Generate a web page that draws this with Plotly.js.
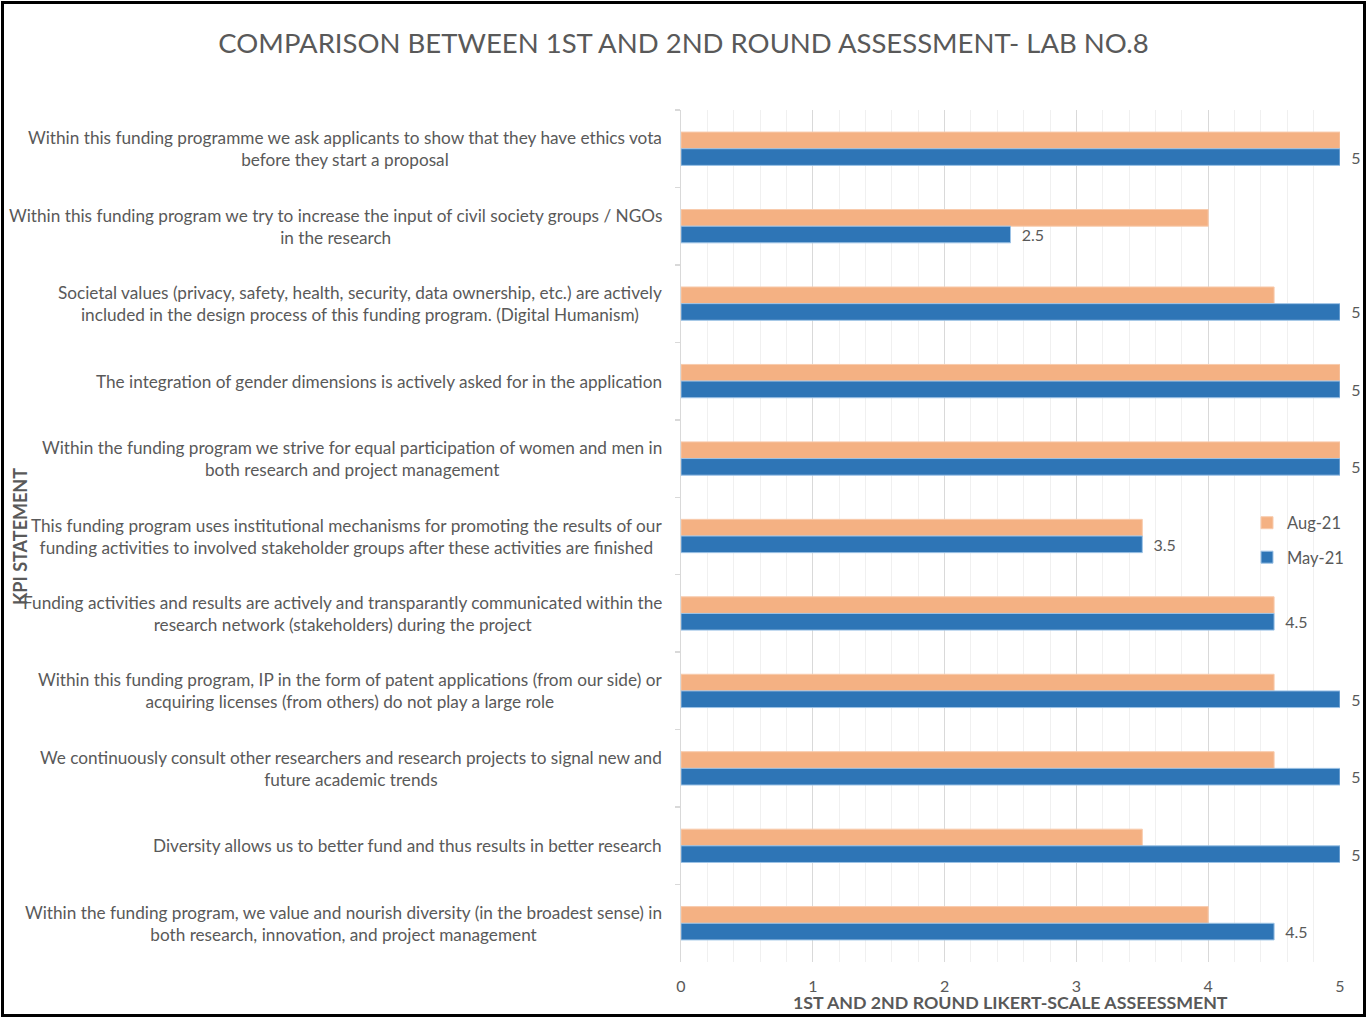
<!DOCTYPE html>
<html>
<head>
<meta charset="utf-8">
<script src="https://cdn.plot.ly/plotly-3.0.1.min.js"></script>
<style>
  html, body { margin: 0; padding: 0; background: #fff; }
  #wrap { position: relative; width: 1367px; height: 1019px; }
  #chart { width: 1367px; height: 1019px; }
  #frame { position: absolute; left: 1px; top: 1px; width: 1365px; height: 1016px; box-sizing: border-box; border: 3px solid #000; pointer-events: none; }
</style>
</head>
<body>
<div id="wrap"><div id="chart"></div><div id="frame"></div></div>
<script>
var categories = [
  "Within this funding programme we ask applicants to show that they have ethics vota<br>before they start a proposal",
  "Within this funding program we try to increase the input of civil society groups / NGOs<br>in the research",
  "Societal values (privacy, safety, health, security, data ownership, etc.) are actively<br>included in the design process of this funding program. (Digital Humanism)",
  "The integration of gender dimensions is actively asked for in the application",
  "Within the funding program we strive for equal participation of women and men in<br>both research and project management",
  "This funding program uses institutional mechanisms for promoting the results of our<br>funding activities to involved stakeholder groups after these activities are finished",
  "Funding activities and results are actively and transparantly communicated within the<br>research network (stakeholders) during the project",
  "Within this funding program, IP in the form of patent applications (from our side) or<br>acquiring licenses (from others) do not play a large role",
  "We continuously consult other researchers and research projects to signal new and<br>future academic trends",
  "Diversity allows us to better fund and thus results in better research",
  "Within the funding program, we value and nourish diversity (in the broadest sense) in<br>both research, innovation, and project management"
];
var aug21 = [5, 4, 4.5, 5, 5, 3.5, 4.5, 4.5, 4.5, 3.5, 4];
var may21 = [5, 2.5, 5, 5, 5, 3.5, 4.5, 5, 5, 5, 4.5];
var seriesNames = ["Aug-21", "May-21"];
var xTicks = [0, 1, 2, 3, 4, 5];

var FONT = "Lato, 'Open Sans', sans-serif";
var GRAY = "#595959";

var traces = [
  {
    type: "bar", orientation: "h", name: seriesNames[0],
    y: categories, x: aug21,
    marker: { color: "#F4B183", line: { color: "#F8CBAD", width: 1 } },
    legendgroup: "a", hoverinfo: "x+name"
  },
  {
    type: "bar", orientation: "h", name: seriesNames[1],
    y: categories, x: may21,
    marker: { color: "#2E75B6", line: { color: "#9DC3E6", width: 1 } },
    text: may21.map(String),
    texttemplate: "\u00a0\u00a0%{text}",
    textposition: "outside",
    constraintext: "none",
    cliponaxis: false,
    textfont: { family: FONT, size: 16, color: GRAY },
    legendgroup: "b", hoverinfo: "x+name"
  }
];

var annotations = categories.map(function (c) {
  return {
    xref: "paper", yref: "y", x: -17 / 659, y: c,
    xanchor: "right", yanchor: "middle", align: "center",
    text: c, showarrow: false,
    font: { family: FONT, size: 17.2, color: GRAY }
  };
});
annotations.push({
  xref: "paper", yref: "paper", x: (20 - 681) / 659, y: (962 - 537) / 852,
  xanchor: "center", yanchor: "middle", textangle: -90,
  text: "<b>KPI STATEMENT</b>", showarrow: false,
  font: { family: FONT, size: 18, color: GRAY }
});
annotations.push({
  xref: "paper", yref: "paper", x: (1010 - 681) / 659, y: (962 - 1002) / 852,
  xanchor: "center", yanchor: "middle",
  text: "<b>1ST AND 2ND ROUND LIKERT-SCALE ASSEESSMENT</b>", showarrow: false,
  font: { family: FONT, size: 17.8, color: GRAY }
});

var layout = {
  width: 1367, height: 1019,
  margin: { l: 681, r: 27, t: 110, b: 57, autoexpand: false },
  paper_bgcolor: "#fff", plot_bgcolor: "#fff",
  font: { family: FONT, color: GRAY },
  title: {
    text: "COMPARISON BETWEEN 1ST AND 2ND ROUND ASSESSMENT- LAB NO.8",
    x: 0.5, xref: "container", xanchor: "center",
    y: 1 - 43 / 1019, yref: "container", yanchor: "middle",
    font: { family: FONT, size: 27.5, color: GRAY }
  },
  barmode: "group",
  bargap: 0.57,
  bargroupgap: 0,
  showlegend: true,
  legend: {
    x: (1247 - 681) / 659, y: (962 - 540) / 852, xanchor: "left", yanchor: "middle",
    bgcolor: "rgba(0,0,0,0)", traceorder: "grouped", tracegroupgap: 10,
    font: { family: FONT, size: 16.5, color: GRAY }, itemwidth: 30
  },
  xaxis: {
    range: [0, 5], tickvals: xTicks, ticktext: xTicks.map(String),
    showgrid: true, gridcolor: "#D9D9D9", gridwidth: 1.3,
    minor: { dtick: 0.2, showgrid: true, gridcolor: "#F0F0F0", gridwidth: 1 },
    zeroline: false, showline: false, ticks: "",
    tickfont: { family: FONT, size: 16, color: GRAY },
    ticklabelstandoff: 13,
    fixedrange: true
  },
  yaxis: {
    type: "category", categoryorder: "array", categoryarray: categories,
    autorange: "reversed",
    showticklabels: false,
    showline: true, linecolor: "#D9D9D9", linewidth: 1.5,
    ticks: "outside", tickson: "boundaries", ticklen: 5, tickcolor: "#D9D9D9", tickwidth: 1.5,
    showgrid: false, zeroline: false, fixedrange: true
  },
  annotations: annotations
};

Plotly.newPlot("chart", traces, layout, { displayModeBar: false, staticPlot: true });
</script>
</body>
</html>
